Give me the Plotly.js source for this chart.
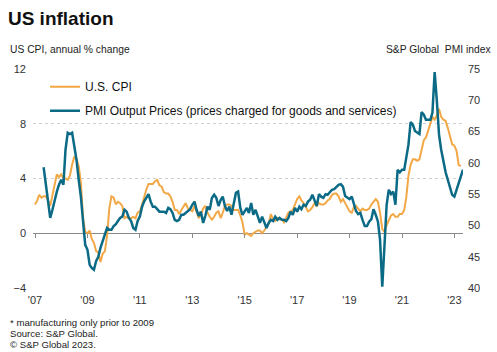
<!DOCTYPE html>
<html>
<head>
<meta charset="utf-8">
<script src="https://cdn.plot.ly/plotly-3.0.1.min.js"></script>
<style>
html,body{margin:0;padding:0;background:#fff;}
#chart{width:497px;height:352px;}
</style>
</head>
<body>
<div id="chart"></div>
<script>
// US CPI, annual % change, monthly from Jan 2007
const cpiStart = [2007, 1];
const cpiValues = [
  2.1,2.4,2.8,2.6,2.7,2.7,2.4,2.0,2.8,3.5,4.3,4.1,
  4.3,4.0,4.0,3.9,4.2,5.0,5.6,5.4,4.9,3.7,1.1,0.1,
  0.0,0.2,-0.4,-0.7,-1.3,-1.4,-2.1,-1.5,-1.3,-0.2,1.8,2.7,
  2.6,2.1,2.3,2.2,2.0,1.1,1.2,1.1,1.1,1.2,1.1,1.5,
  1.6,2.1,2.7,3.2,3.6,3.6,3.6,3.8,3.9,3.5,3.4,3.0,
  2.9,2.9,2.7,2.3,1.7,1.7,1.4,1.7,2.0,2.2,1.8,1.7,
  1.6,2.0,1.5,1.1,1.4,1.8,2.0,1.5,1.2,1.0,1.2,1.5,
  1.6,1.1,1.5,2.0,2.1,2.1,2.0,1.7,1.7,1.7,1.3,0.8,
  -0.1,0.0,-0.1,-0.2,0.0,0.1,0.2,0.2,0.0,0.2,0.5,0.7,
  1.4,1.0,0.9,1.1,1.0,1.0,0.8,1.1,1.5,1.6,1.7,2.1,
  2.5,2.7,2.4,2.2,1.9,1.6,1.7,1.9,2.2,2.0,2.2,2.1,
  2.1,2.2,2.4,2.5,2.8,2.9,2.9,2.7,2.3,2.5,2.2,1.9,
  1.6,1.5,1.9,2.0,1.8,1.6,1.8,1.7,1.7,1.8,2.1,2.3,
  2.5,2.3,1.5,0.3,0.1,0.6,1.0,1.3,1.4,1.2,1.2,1.4,
  1.4,1.7,2.6,4.2,5.0,5.4,5.4,5.3,5.4,6.2,6.8,7.0,
  7.5,7.9,8.5,8.3,8.6,9.1,8.5,8.3,8.2,7.7,7.1,6.5,
  6.4,6.0,5.0,4.9
];

// S&P Global PMI Output Prices index, monthly from May 2007
const pmiStart = [2007, 5];
const pmiValues = [
  59.3,56.6,53.9,51.2,52.5,54.1,55.4,56.5,
  57.3,56.5,62.1,64.8,64.6,64.8,62.9,60.5,57.3,54.6,50.6,46.9,
  46.1,43.7,43.2,42.9,44.3,45.0,46.4,47.5,48.6,49.6,49.3,49.3,
  49.9,50.2,50.7,51.2,51.4,52.5,52.2,51.2,50.7,49.6,49.3,50.7,
  51.4,53.0,53.8,54.4,55.0,53.8,53.0,53.0,52.5,52.2,52.2,52.2,
  52.0,52.8,52.6,52.0,50.9,50.7,50.9,51.7,51.7,52.0,52.2,52.6,
  53.3,53.8,52.5,51.5,52.2,50.4,51.5,53.0,52.5,54.4,54.9,54.4,
  53.1,54.1,54.6,53.1,52.3,53.0,51.7,53.3,55.2,55.4,52.8,51.7,
  52.2,52.8,52.0,53.6,51.7,52.5,51.5,50.4,51.4,50.6,49.6,50.4,
  50.9,50.7,51.4,50.9,51.2,50.9,50.9,50.7,51.2,52.2,51.7,52.8,
  52.2,53.0,52.6,53.3,53.1,53.8,54.1,54.9,54.1,53.1,55.0,54.6,
  54.4,55.0,54.9,55.4,55.7,55.8,56.2,56.5,56.6,56.2,54.7,54.4,
  54.2,54.6,53.3,52.3,51.8,52.0,50.9,49.9,49.9,50.6,51.0,52.6,
  51.7,50.6,47.7,40.2,46.6,53.3,55.7,55.0,55.4,53.3,58.9,58.5,
  58.9,58.9,60.8,62.9,66.5,66.1,65.1,64.9,64.6,68.1,67.7,66.9,
  66.9,66.9,68.0,74.5,70.0,64.5,62.1,60.1,58.5,57.3,56.0,54.9,
  54.6,55.7,56.7,57.7,58.9
];

const xTickVals = ['2007-01-01','2009-01-01','2011-01-01','2013-01-01','2015-01-01','2017-01-01','2019-01-01','2021-01-01','2023-01-01'];
const xTickText = ["'07","'09","'11","'13","'15","'17","'19","'21","'23"];
const leftTicks = [-4,0,4,8,12];
const rightTicks = [40,45,50,55,60,65,70,75];

function monthDates(start, n){
  const out = [];
  let y = start[0], m = start[1];
  for (let i = 0; i < n; i++){
    out.push(y + '-' + String(m).padStart(2,'0') + '-01');
    m++; if (m > 12){ m = 1; y++; }
  }
  return out;
}

const FONT = '"Liberation Sans", Arial, Helvetica, sans-serif';
const xRange = ['2006-12-04', '2023-05-01'];

const traces = [
  {
    x: monthDates(cpiStart, cpiValues.length), y: cpiValues,
    type: 'scatter', mode: 'lines', name: 'U.S. CPI',
    line: {color: '#F2A846', width: 2}, legendgroup: 'a',
    xaxis: 'x', yaxis: 'y', hoverinfo: 'skip'
  },
  {
    x: monthDates(pmiStart, pmiValues.length), y: pmiValues,
    type: 'scatter', mode: 'lines', name: 'PMI Output Prices (prices charged for goods and services)',
    line: {color: '#0B6A85', width: 2.5}, legendgroup: 'b',
    xaxis: 'x2', yaxis: 'y2', hoverinfo: 'skip'
  }
];

const layout = {
  width: 497, height: 352,
  margin: {l: 33, r: 34, t: 69, b: 64, pad: 0},
  paper_bgcolor: '#fff', plot_bgcolor: '#fff',
  font: {family: FONT, size: 11, color: '#222'},
  showlegend: true,
  legend: {
    x: 0.028, y: 0.985, xanchor: 'left', yanchor: 'top',
    bgcolor: 'rgba(0,0,0,0)', font: {family: FONT, size: 12, color: '#111'},
    traceorder: 'grouped', tracegroupgap: 5, itemwidth: 30
  },
  title: {
    text: '<b>US inflation</b>', x: 0.016, xanchor: 'left', xref: 'container',
    y: 0.948, yanchor: 'middle', yref: 'container',
    font: {family: FONT, size: 19, color: '#111'}
  },
  xaxis: {
    type: 'date', range: xRange,
    tickvals: xTickVals, ticktext: xTickText,
    ticks: '', showgrid: false, zeroline: false, showline: false,
    tickfont: {size: 11, color: '#333'}, ticklabelstandoff: 4, fixedrange: true
  },
  xaxis2: {
    type: 'date', range: xRange, overlaying: 'x', anchor: 'free', position: 0.25,
    tickvals: xTickVals, showticklabels: false,
    ticks: 'outside', ticklen: 4, tickcolor: '#8a8a8a', tickwidth: 1,
    showgrid: false, zeroline: false, showline: false
  },
  yaxis: {
    range: [-4, 12], tickvals: leftTicks, ticks: '',
    showgrid: true, gridcolor: '#cfcfcf', griddash: 'dot', gridwidth: 1,
    zeroline: true, zerolinecolor: '#8a8a8a', zerolinewidth: 1,
    showline: false, tickfont: {size: 11, color: '#333'}, ticklabelstandoff: 6
  },
  yaxis2: {
    range: [40, 75], tickvals: rightTicks, ticks: '', side: 'right',
    overlaying: 'y', anchor: 'x2', showgrid: false, zeroline: false, showline: false,
    tickfont: {size: 11, color: '#333'}, ticklabelstandoff: 4
  },
  annotations: [
    {text: 'US CPI, annual % change', xref: 'paper', yref: 'paper', x: -0.058, y: 1.087,
     xanchor: 'left', yanchor: 'middle', showarrow: false, font: {size: 10.3, color: '#222'}},
    {text: 'S&P Global  PMI index', xref: 'paper', yref: 'paper', x: 1.070, y: 1.087,
     xanchor: 'right', yanchor: 'middle', showarrow: false, font: {size: 10.3, color: '#222'}},
    {text: '* manufacturing only prior to 2009', xref: 'paper', yref: 'paper', x: -0.058, y: -0.158,
     xanchor: 'left', yanchor: 'middle', showarrow: false, font: {size: 9.6, color: '#222'}},
    {text: 'Source: S&P Global.', xref: 'paper', yref: 'paper', x: -0.058, y: -0.207,
     xanchor: 'left', yanchor: 'middle', showarrow: false, font: {size: 9.6, color: '#222'}},
    {text: '© S&P Global 2023.', xref: 'paper', yref: 'paper', x: -0.058, y: -0.256,
     xanchor: 'left', yanchor: 'middle', showarrow: false, font: {size: 9.6, color: '#222'}}
  ]
};

Plotly.newPlot('chart', traces, layout, {staticPlot: true, displayModeBar: false});
</script>
</body>
</html>
